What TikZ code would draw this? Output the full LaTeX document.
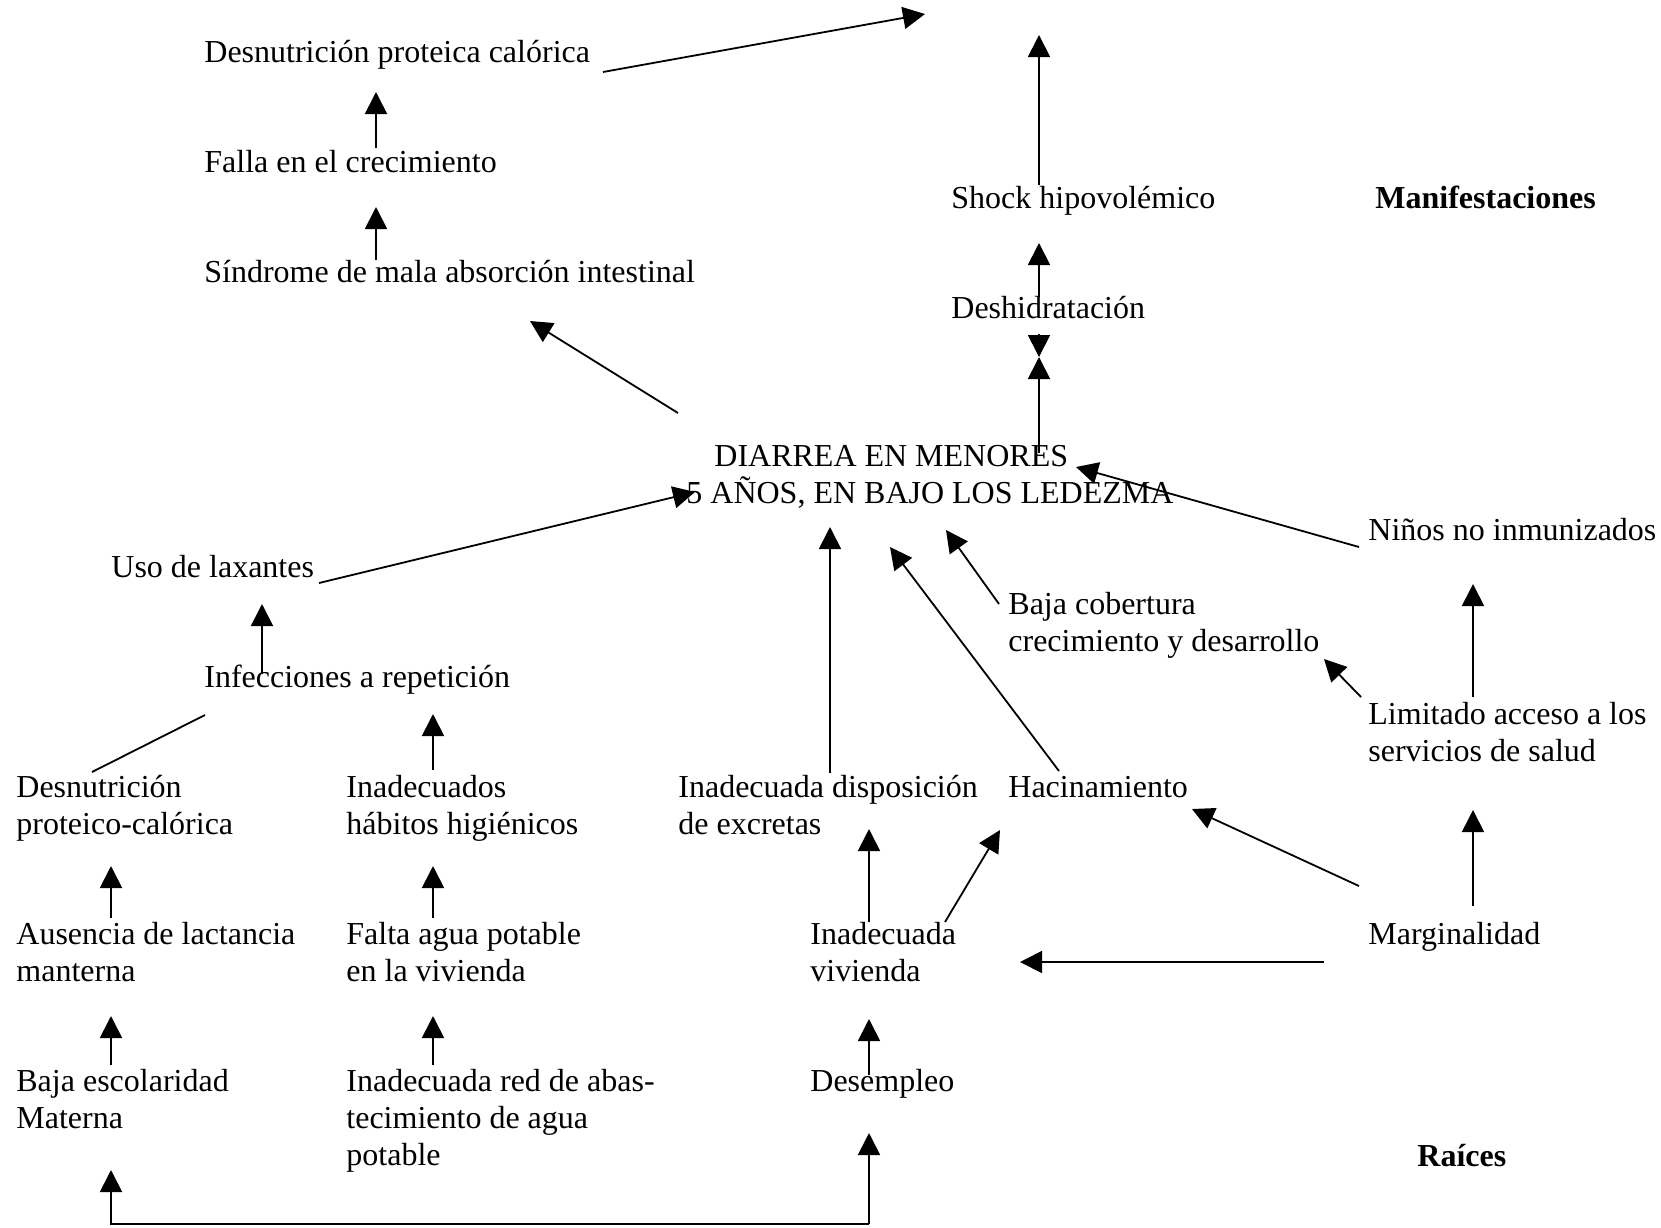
\documentclass[tikz,border=0pt]{standalone}
\usepackage{fontspec}
\setmainfont{Liberation Serif}
\usetikzlibrary{arrows.meta}
\newcommand\mlines[1]{\begin{tabular}[t]{@{}l@{}}#1\end{tabular}}
\begin{document}
\begin{tikzpicture}[x=0.5pt,y=-0.5pt,
  lbl/.style={anchor=base west,inner sep=0pt,font=\fontsize{16}{18.5}\selectfont},
  boldlbl/.style={lbl,font=\fontsize{16}{18.5}\selectfont\bfseries},
  arr/.style={line width=0.9pt,-{Triangle[length=11pt,width=11pt]}},
  ln/.style={line width=0.9pt}]
\useasboundingbox[fill=white] (0,0) rectangle (1661,1227);
% nodes
\node[lbl] (dpc) at (204,62) {Desnutrición proteica calórica};
\node[lbl] (falla) at (204,172) {Falla en el crecimiento};
\node[lbl] (sind) at (204,282) {Síndrome de mala absorción intestinal};
\node[lbl] (shock) at (951,208) {Shock hipovolémico};
\node[boldlbl] (manif) at (1375,208) {Manifestaciones};
\node[lbl] (desh) at (951,318) {Deshidratación};
\node[lbl] (diarrea) at (686,466) {\mlines{\hspace*{14pt}DIARREA EN MENORES\\5 AÑOS, EN BAJO LOS LEDEZMA}};
\node[lbl] (uso) at (111,577) {Uso de laxantes};
\node[lbl] (inf) at (204,687) {Infecciones a repetición};
\node[lbl] (ninos) at (1368,540) {Niños no inmunizados};
\node[lbl] (bajacob) at (1008,614) {\mlines{Baja cobertura\\crecimiento y desarrollo}};
\node[lbl] (limit) at (1368,724) {\mlines{Limitado acceso a los\\servicios de salud}};
\node[lbl] (desn2) at (16,797) {\mlines{Desnutrición\\proteico-calórica}};
\node[lbl] (habitos) at (346,797) {\mlines{Inadecuados\\hábitos higiénicos}};
\node[lbl] (excretas) at (678,797) {\mlines{Inadecuada disposición\\de excretas}};
\node[lbl] (hacin) at (1008,797) {Hacinamiento};
\node[lbl] (lact) at (16,944) {\mlines{Ausencia de lactancia\\manterna}};
\node[lbl] (agua) at (346,944) {\mlines{Falta agua potable\\en la vivienda}};
\node[lbl] (vivienda) at (810,944) {\mlines{Inadecuada\\vivienda}};
\node[lbl] (margin) at (1368,944) {Marginalidad};
\node[lbl] (escol) at (16,1091) {\mlines{Baja escolaridad\\Materna}};
\node[lbl] (red) at (346,1091) {\mlines{Inadecuada red de abas-\\tecimiento de agua\\potable}};
\node[lbl] (desemp) at (810,1091) {Desempleo};
\node[boldlbl] (raices) at (1417,1166) {Raíces};
% connector end points
\coordinate (topend) at (925,14);
\coordinate (dpcS) at (603,72);
\coordinate (shockS) at (1039,185);
\coordinate (shockT) at (1039,35);
\coordinate (deshS) at (1039,297);
\coordinate (deshT) at (1039,243);
\coordinate (deshD) at (1039,334);
\coordinate (meet) at (1039,357);
\coordinate (diaS) at (1039,453);
\coordinate (diaL) at (678,413);
\coordinate (sindT) at (530,321);
\coordinate (fallaS) at (376,148);
\coordinate (dpcT) at (376,92);
\coordinate (sindS) at (376,260);
\coordinate (fallaT) at (376,207);
\coordinate (usoS) at (319,583);
\coordinate (diaT1) at (695,492);
\coordinate (infS) at (262,674);
\coordinate (usoT) at (262,604);
\coordinate (ninosS) at (1359,547);
\coordinate (diaT2) at (1076,467);
\coordinate (bajaS) at (999,604);
\coordinate (diaT3) at (946,530);
\coordinate (hacS) at (1059,771);
\coordinate (diaT4) at (890,547);
\coordinate (excS) at (830,773);
\coordinate (diaT5) at (830,527);
\coordinate (limS1) at (1361,697);
\coordinate (bajaT) at (1324,659);
\coordinate (limS2) at (1473,697);
\coordinate (ninosT) at (1473,584);
\coordinate (marS1) at (1473,906);
\coordinate (limT) at (1473,810);
\coordinate (marS2) at (1359,886);
\coordinate (hacT) at (1192,809);
\coordinate (marS3) at (1324,962);
\coordinate (vivT) at (1020,962);
\coordinate (vivS1) at (869,922);
\coordinate (excT) at (869,829);
\coordinate (vivS2) at (945,922);
\coordinate (hacT2) at (1000,830);
\coordinate (desS) at (869,1075);
\coordinate (vivT2) at (869,1019);
\coordinate (bot) at (869,1224);
\coordinate (botL) at (111,1224);
\coordinate (desT) at (869,1133);
\coordinate (escT) at (111,1170);
\coordinate (infL) at (205,715);
\coordinate (desnR) at (92,772);
\coordinate (habS) at (433,770);
\coordinate (infT) at (433,714);
\coordinate (aguaS) at (433,918);
\coordinate (habT) at (433,866);
\coordinate (redS) at (433,1065);
\coordinate (aguaT) at (433,1016);
\coordinate (lactS) at (111,918);
\coordinate (desnT) at (111,866);
\coordinate (escS) at (111,1065);
\coordinate (lactT) at (111,1016);
% connectors
\draw[arr] (dpcS) -- (topend);
\draw[arr] (shockS) -- (shockT);
\draw[arr] (deshS) -- (deshT);
\draw[arr] (deshD) -- (meet);
\draw[arr] (diaS) -- (meet);
\draw[arr] (diaL) -- (sindT);
\draw[arr] (fallaS) -- (dpcT);
\draw[arr] (sindS) -- (fallaT);
\draw[arr] (usoS) -- (diaT1);
\draw[arr] (infS) -- (usoT);
\draw[arr] (ninosS) -- (diaT2);
\draw[arr] (bajaS) -- (diaT3);
\draw[arr] (hacS) -- (diaT4);
\draw[arr] (excS) -- (diaT5);
\draw[arr] (limS1) -- (bajaT);
\draw[arr] (limS2) -- (ninosT);
\draw[arr] (marS1) -- (limT);
\draw[arr] (marS2) -- (hacT);
\draw[arr] (marS3) -- (vivT);
\draw[arr] (vivS1) -- (excT);
\draw[arr] (vivS2) -- (hacT2);
\draw[arr] (desS) -- (vivT2);
\draw[arr] (bot) -- (desT);
\draw[arr] (bot) -- (botL) -- (escT);
\draw[ln] (infL) -- (desnR);
\draw[arr] (habS) -- (infT);
\draw[arr] (aguaS) -- (habT);
\draw[arr] (redS) -- (aguaT);
\draw[arr] (lactS) -- (desnT);
\draw[arr] (escS) -- (lactT);
\end{tikzpicture}
\end{document}
